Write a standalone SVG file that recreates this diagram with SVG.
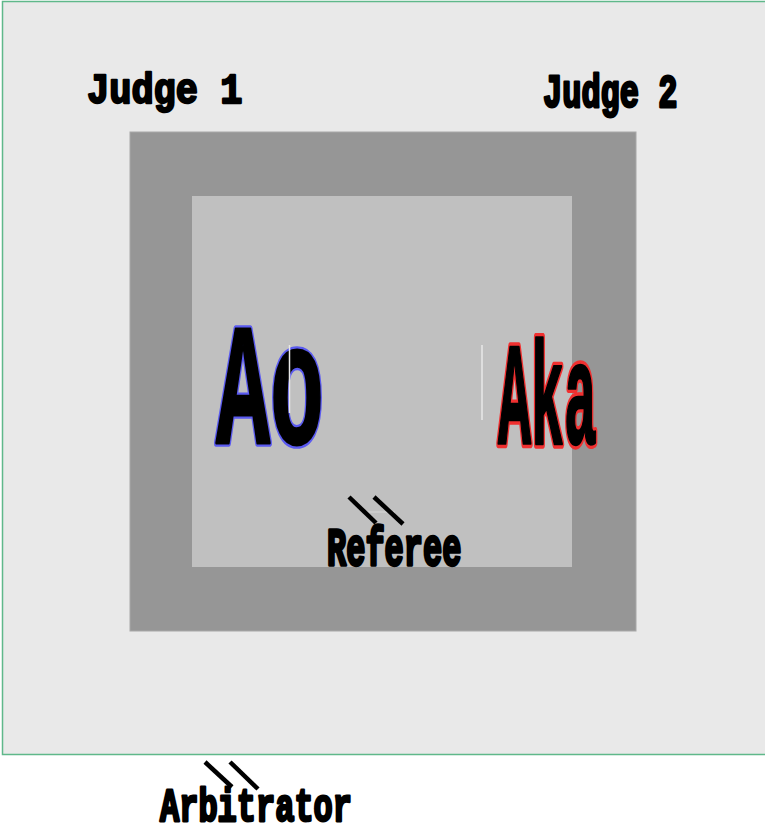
<svg xmlns="http://www.w3.org/2000/svg" width="765" height="834" viewBox="0 0 765 834">
<style>
.t{font-family:"Liberation Mono","Courier New",monospace;font-weight:bold;fill:#000;stroke:#000;stroke-width:2;stroke-linejoin:round;}
.sl{stroke:#000;stroke-width:4.5;fill:none;}
.wl{stroke:#e8e8e8;stroke-width:1.5;}
</style>
<rect width="765" height="834" fill="#fff"/>
<g id="area">
<rect x="2.5" y="1.5" width="764" height="753" fill="#e9e9e9" stroke="#5fb88a" stroke-width="1.5"/>
<rect x="130" y="132" width="506" height="499" fill="#969696" stroke="#a8a8a8" stroke-width="1"/>
<rect x="192" y="196" width="380" height="371" fill="#c0c0c0"/>
</g>
<g id="judge1"><text class="t" transform="translate(87,103) scale(1,1.15)" font-size="37">Judge 1</text></g>
<g id="judge2"><text class="t" transform="translate(543,107) scale(1,1.43)" font-size="32">Judge 2</text></g>
<g id="ao">
<text class="t" transform="translate(216,443) scale(1,1.92)" font-size="90" style="stroke:#5a5af0;stroke-width:4">Ao</text>
<text class="t" transform="translate(216,443) scale(1,1.92)" font-size="90" style="stroke-width:1.5">Ao</text>
</g>
<g id="aka">
<text class="t" transform="translate(498,444) scale(1,2.65)" font-size="55" style="stroke:#f03030;stroke-width:3.5">Aka</text>
<text class="t" transform="translate(498,444) scale(1,2.65)" font-size="55" style="stroke-width:1">Aka</text>
</g>
<g id="marks">
<line class="wl" x1="289.5" y1="345" x2="289.5" y2="413"/>
<line class="wl" x1="482" y1="345" x2="482" y2="420"/>
<line x1="368" y1="512" x2="395" y2="512" stroke="#d8d8d8" stroke-width="1"/>
</g>
<g id="referee"><text class="t" transform="translate(327,565) scale(1,1.7)" font-size="32">Referee</text></g>
<g id="arbitrator"><text class="t" transform="translate(160,821) scale(1,1.45)" font-size="32">Arbitrator</text></g>
<g id="connectors">
<line class="sl" x1="349" y1="497" x2="376" y2="523"/>
<line class="sl" x1="374" y1="497" x2="403" y2="524"/>
<line class="sl" x1="205" y1="762" x2="232" y2="787"/>
<line class="sl" x1="230" y1="762" x2="258" y2="789"/>
</g>
</svg>
